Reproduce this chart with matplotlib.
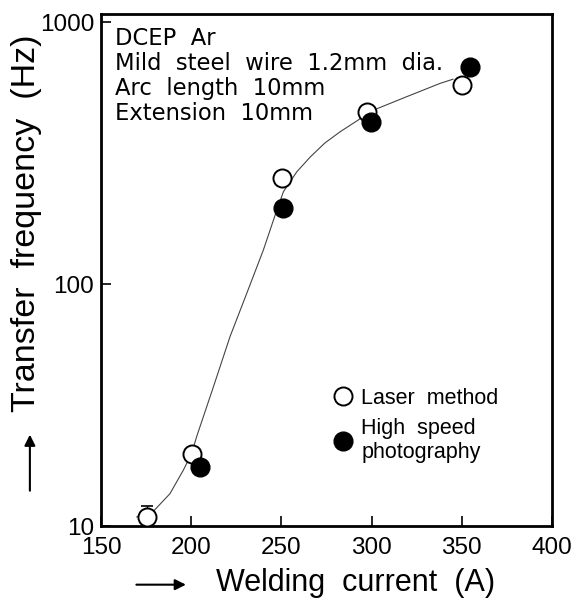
import numpy as np
import matplotlib.pyplot as plt
from matplotlib.lines import Line2D

plt.rcParams['font.family'] = ['Liberation Sans', 'DejaVu Sans']

# data
laser_x = [175.3, 200.3, 250.2, 297.3, 349.9]
laser_y = [10.9, 19.8, 253, 455, 575]
laser_err_lo = [1.0, 0, 0, 0, 0]
laser_err_hi = [1.2, 0, 0, 0, 0]

photo_x = [204.9, 251.1, 299.5, 354.5]
photo_y = [17.6, 195, 416, 671]

curve_x = [169.8, 179.0, 188.2, 195.6, 200.3, 203.0, 212.3, 221.5, 230.8, 240.0,
           247.4, 251.1, 258.5, 265.9, 274.0, 282.5, 301.0, 319.5, 337.9, 345.1]
curve_y = [10.9, 11.5, 13.6, 17.0, 20.0, 23.4, 37.6, 60.6, 91.6, 134.9,
           191, 225, 268, 305, 345, 381, 461, 519, 583, 605]

x_ticks = [150, 200, 250, 300, 350, 400]
y_ticks = [10, 100, 1000]

# the original's upper decade is drawn a bit taller than the lower one
k = 262 / 242


def fwd(y):
    v = np.log10(np.clip(y, 1e-3, None))
    return np.where(v <= 2, v, 2 + (v - 2) * k)


def inv(v):
    return np.where(v <= 2, 10 ** v, 10 ** (2 + (v - 2) / k))


fig = plt.figure(figsize=(5.86, 6.04), dpi=100)
ax = fig.add_axes([0.1724, 0.1291, 0.7696, 0.8477])
ax.set_yscale('function', functions=(fwd, inv))

ax.plot(curve_x, curve_y, color='#444444', lw=0.8, zorder=1)
ax.errorbar(laser_x, laser_y, yerr=[laser_err_lo, laser_err_hi], fmt='none',
            ecolor='black', elinewidth=1.0, capsize=4.5, capthick=1.2, zorder=2)
ax.plot(laser_x, laser_y, 'o', ms=13, mfc='white', mec='black', mew=1.4,
        linestyle='none', zorder=3)
ax.plot(photo_x, photo_y, 'o', ms=13.5, mfc='black', mec='black',
        linestyle='none', zorder=4)

ax.set_xlim(150, 400)
ax.set_ylim(10, 1073)
ax.set_xticks(x_ticks)
ax.set_xticklabels([str(t) for t in x_ticks])
ax.set_yticks(y_ticks)
ax.set_yticklabels([str(t) for t in y_ticks])
ax.minorticks_off()
ax.tick_params(direction='in', length=7, width=1.2, labelsize=17.5)
ax.tick_params(axis='x', pad=8)
ax.tick_params(axis='y', pad=5)
for s in ax.spines.values():
    s.set_linewidth(2)

ax.text(0.031, 0.974,
        'DCEP  Ar\nMild  steel  wire  1.2mm  dia.\nArc  length  10mm\nExtension  10mm',
        transform=ax.transAxes, ha='left', va='top', fontsize=16.3, linespacing=1.1,
        family='DejaVu Sans')

handles = [
    Line2D([], [], marker='o', ms=13, mfc='white', mec='black', mew=1.4, linestyle='none'),
    Line2D([], [], marker='o', ms=13.5, mfc='black', mec='black', linestyle='none'),
]
ax.legend(handles, ['Laser  method', 'High  speed\nphotography'],
          loc='upper left', bbox_to_anchor=(0.513, 0.27), frameon=False,
          fontsize=15.5, handlelength=1.0, handletextpad=0.35, borderpad=0,
          labelspacing=0.42, borderaxespad=0)

fig.text(0.607, 0.035, 'Welding  current  (A)', ha='center', va='center', fontsize=22)
fig.text(0.046, 0.63, 'Transfer  frequency  (Hz)', ha='center', va='center',
         fontsize=24.5, rotation=90)
fig.add_artist(plt.Annotation('', xy=(0.322, 0.032), xytext=(0.228, 0.032),
                              xycoords='figure fraction',
                              arrowprops=dict(arrowstyle='-|>', color='black', lw=1.5,
                                              mutation_scale=16)))
fig.add_artist(plt.Annotation('', xy=(0.051, 0.285), xytext=(0.051, 0.183),
                              xycoords='figure fraction',
                              arrowprops=dict(arrowstyle='-|>', color='black', lw=1.5,
                                              mutation_scale=16)))

fig.savefig('out.png', dpi=100)
